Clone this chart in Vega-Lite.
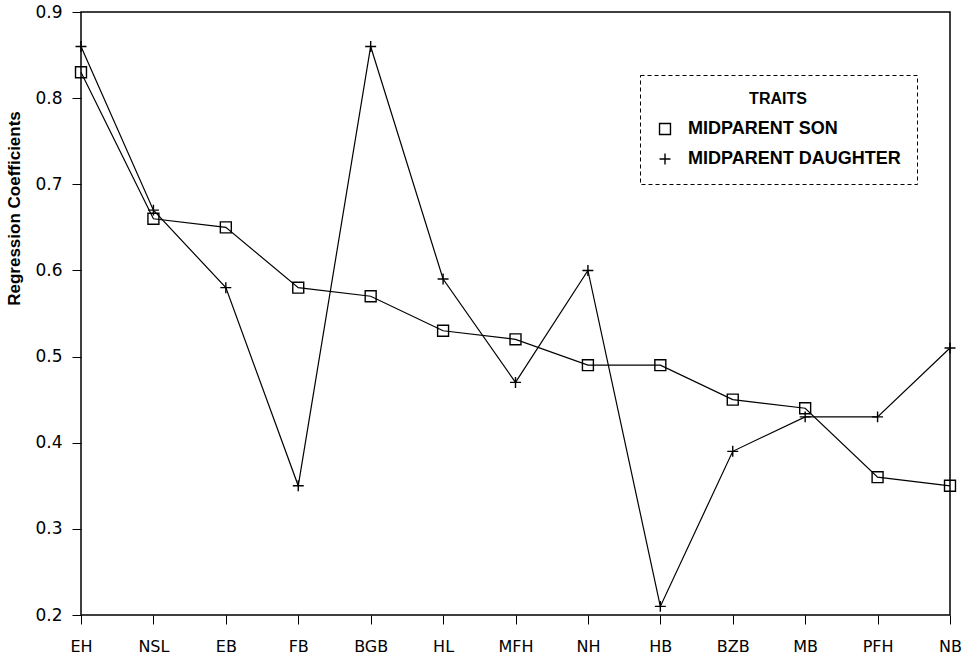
{
  "$schema": "https://vega.github.io/schema/vega-lite/v6.json",
  "width": 869,
  "height": 603,
  "autosize": "none",
  "padding": {"left": 81, "top": 12, "right": 19, "bottom": 46},
  "background": "white",
  "config": {
    "view": {"stroke": "black", "strokeWidth": 1.5},
    "font": "Liberation Sans",
    "legend": {"strokeDash": [4, 3]}
  },
  "data": {
    "values": [
      {"trait": "EH", "series": "MIDPARENT SON", "value": 0.83},
      {"trait": "NSL", "series": "MIDPARENT SON", "value": 0.66},
      {"trait": "EB", "series": "MIDPARENT SON", "value": 0.65},
      {"trait": "FB", "series": "MIDPARENT SON", "value": 0.58},
      {"trait": "BGB", "series": "MIDPARENT SON", "value": 0.57},
      {"trait": "HL", "series": "MIDPARENT SON", "value": 0.53},
      {"trait": "MFH", "series": "MIDPARENT SON", "value": 0.52},
      {"trait": "NH", "series": "MIDPARENT SON", "value": 0.49},
      {"trait": "HB", "series": "MIDPARENT SON", "value": 0.49},
      {"trait": "BZB", "series": "MIDPARENT SON", "value": 0.45},
      {"trait": "MB", "series": "MIDPARENT SON", "value": 0.44},
      {"trait": "PFH", "series": "MIDPARENT SON", "value": 0.36},
      {"trait": "NB", "series": "MIDPARENT SON", "value": 0.35},
      {"trait": "EH", "series": "MIDPARENT DAUGHTER", "value": 0.86},
      {"trait": "NSL", "series": "MIDPARENT DAUGHTER", "value": 0.67},
      {"trait": "EB", "series": "MIDPARENT DAUGHTER", "value": 0.58},
      {"trait": "FB", "series": "MIDPARENT DAUGHTER", "value": 0.35},
      {"trait": "BGB", "series": "MIDPARENT DAUGHTER", "value": 0.86},
      {"trait": "HL", "series": "MIDPARENT DAUGHTER", "value": 0.59},
      {"trait": "MFH", "series": "MIDPARENT DAUGHTER", "value": 0.47},
      {"trait": "NH", "series": "MIDPARENT DAUGHTER", "value": 0.60},
      {"trait": "HB", "series": "MIDPARENT DAUGHTER", "value": 0.21},
      {"trait": "BZB", "series": "MIDPARENT DAUGHTER", "value": 0.39},
      {"trait": "MB", "series": "MIDPARENT DAUGHTER", "value": 0.43},
      {"trait": "PFH", "series": "MIDPARENT DAUGHTER", "value": 0.43},
      {"trait": "NB", "series": "MIDPARENT DAUGHTER", "value": 0.51}
    ]
  },
  "encoding": {
    "x": {
      "field": "trait",
      "type": "ordinal",
      "sort": ["EH", "NSL", "EB", "FB", "BGB", "HL", "MFH", "NH", "HB", "BZB", "MB", "PFH", "NB"],
      "scale": {"type": "point", "padding": 0},
      "axis": {
        "title": null,
        "labelAngle": 0,
        "labelFontSize": 16,
        "labelFont": "DejaVu Sans",
        "labelColor": "black",
        "labelPadding": 14,
        "tickSize": 9,
        "tickColor": "black",
        "domain": false,
        "grid": false
      }
    },
    "y": {
      "field": "value",
      "type": "quantitative",
      "scale": {"domain": [0.2, 0.9], "nice": false, "zero": false},
      "axis": {
        "title": "Regression Coefficients",
        "titleFontSize": 17,
        "titleFontWeight": "bold",
        "titleColor": "black",
        "titleAngle": 270,
        "titleAlign": "center",
        "titleBaseline": "bottom",
        "titleX": -58,
        "titleY": 196,
        "values": [0.2, 0.3, 0.4, 0.5, 0.6, 0.7, 0.8, 0.9],
        "format": ".1f",
        "labelFontSize": 17,
        "labelFont": "DejaVu Sans",
        "labelColor": "black",
        "labelPadding": 10,
        "tickSize": 9,
        "tickColor": "black",
        "domain": false,
        "grid": false
      }
    }
  },
  "layer": [
    {
      "mark": {"type": "line", "color": "black", "strokeWidth": 1.2},
      "encoding": {"detail": {"field": "series"}}
    },
    {
      "mark": {"type": "point", "filled": false, "stroke": "black", "strokeWidth": 1.4, "opacity": 1},
      "encoding": {
        "shape": {
          "field": "series",
          "type": "nominal",
          "scale": {
            "domain": ["MIDPARENT SON", "MIDPARENT DAUGHTER"],
            "range": ["square", "M-1,0L1,0M0,-1L0,1"]
          },
          "legend": {
            "title": "TRAITS",
            "orient": "none",
            "legendX": 559,
            "legendY": 63,
            "titleAnchor": "middle",
            "titleFontSize": 16,
            "titleFontWeight": "bold",
            "titleColor": "black",
            "titlePadding": 13,
            "labelFontSize": 18,
            "labelFontWeight": "bold",
            "labelColor": "black",
            "labelOffset": 14,
            "labelLimit": 400,
            "symbolStrokeColor": "black",
            "symbolFillColor": "white",
            "symbolStrokeWidth": 1.4,
            "symbolSize": 120,
            "rowPadding": 12,
            "padding": 16,
            "strokeColor": "black",
            "fillColor": "white"
          }
        },
        "size": {"value": 120}
      }
    }
  ]
}
